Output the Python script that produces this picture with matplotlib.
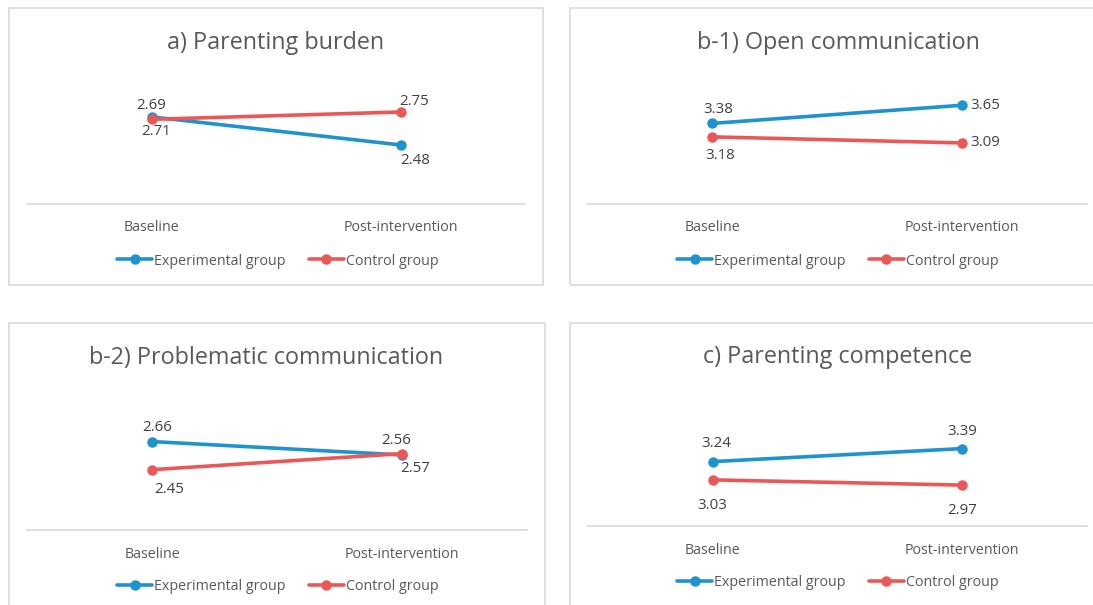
import matplotlib
matplotlib.use("Agg")
import matplotlib.pyplot as plt
from matplotlib.patches import Rectangle

plt.rcParams['font.family'] = ['Open Sans', 'DejaVu Sans']

W, H = 1093, 605

# chart data
categories = ["Baseline", "Post-intervention"]
series_names = ["Experimental group", "Control group"]

burden_exp = [2.71, 2.48]
burden_ctl = [2.69, 2.75]
open_exp = [3.38, 3.65]
open_ctl = [3.18, 3.09]
problem_exp = [2.66, 2.56]
problem_ctl = [2.45, 2.57]
compet_exp = [3.24, 3.39]
compet_ctl = [3.03, 2.97]

titles = ["a) Parenting burden", "b-1) Open communication",
          "b-2) Problematic communication", "c) Parenting competence"]

BLUE = "#1F93CE"
RED = "#EB5757"
GRAY_TXT = "#595959"
LABEL_TXT = "#404040"

fig = plt.figure(figsize=(W / 100, H / 100), dpi=100)


def fx(x):
    return x / W


def fy(y):
    return 1 - y / H


# panel layout in pixels: box, axis line (y, x0, x1), y-bottom value, px per unit,
# title center, legend center, label offsets (px) for [exp, ctl] per point
panels = [
    dict(exp=burden_exp, ctl=burden_ctl, title=titles[0],
         box=(9, 8, 543, 285), axis=(203.5, 27, 525), vmin=2.0, ppu=122,
         title_xy=(276, 43), legend_xy=(278, 261),
         off_exp=[(5, 15), (15, 16)], off_ctl=[(0, -14), (14, -11)]),
    dict(exp=open_exp, ctl=open_ctl, title=titles[1],
         box=(570, 8, 1110, 285), axis=(203.5, 587, 1087), vmin=2.19, ppu=67.3,
         title_xy=(838, 43), legend_xy=(838, 261),
         off_exp=[(6, -14), (23, 0)], off_ctl=[(8, 19), (23, 0)]),
    dict(exp=problem_exp, ctl=problem_ctl, title=titles[2],
         box=(9, 323, 545, 620), axis=(530, 27, 527), vmin=2.0, ppu=134,
         title_xy=(266, 358), legend_xy=(278, 587),
         off_exp=[(5, -14), (-6, -14)], off_ctl=[(17, 20), (13, 15)]),
    dict(exp=compet_exp, ctl=compet_ctl, title=titles[3],
         box=(570, 323, 1110, 620), axis=(526, 588, 1087), vmin=2.5, ppu=87,
         title_xy=(838, 357), legend_xy=(838, 583),
         off_exp=[(4, -18), (0, -17)], off_ctl=[(0, 26), (0, 25)]),
]

top_px_gap = 120  # axes height in pixels

for p in panels:
    bx0, by0, bx1, by1 = p["box"]
    fig.patches.append(Rectangle((fx(bx0), fy(by1)), fx(bx1 - bx0), (by1 - by0) / H,
                                 transform=fig.transFigure, fill=False,
                                 edgecolor="#D9D9D9", linewidth=1.2))
    ay, ax0, ax1 = p["axis"]
    ax = fig.add_axes([fx(ax0), fy(ay), fx(ax1 - ax0), top_px_gap / H])
    ax.set_xlim(-0.5, 1.5)
    ax.set_ylim(p["vmin"], p["vmin"] + top_px_gap / p["ppu"])
    xs = range(len(categories))
    ax.plot(xs, p["exp"], color=BLUE, lw=2.6, marker="o", ms=6.5,
            label=series_names[0], solid_capstyle="round", zorder=3)
    ax.plot(xs, p["ctl"], color=RED, lw=2.6, marker="o", ms=6.5,
            label=series_names[1], solid_capstyle="round", zorder=3)
    for vals, offs in ((p["exp"], p["off_exp"]), (p["ctl"], p["off_ctl"])):
        for i, v in enumerate(vals):
            ax.annotate(f"{v:.2f}", (i, v), xytext=(offs[i][0] * 0.72, -offs[i][1] * 0.72),
                        textcoords="offset points", ha="center", va="center",
                        fontsize=10.8, color=LABEL_TXT)
    for s in ("top", "left", "right"):
        ax.spines[s].set_visible(False)
    ax.spines["bottom"].set_color("#D9D9D9")
    ax.spines["bottom"].set_linewidth(1.2)
    ax.set_yticks([])
    ax.set_xticks(list(xs))
    ax.set_xticklabels(categories, fontsize=10.3, color=GRAY_TXT)
    ax.tick_params(axis="x", length=0, pad=12)
    ax.patch.set_visible(False)
    fig.text(fx(p["title_xy"][0]), fy(p["title_xy"][1]), p["title"],
             ha="center", va="center", fontsize=16.8, color=GRAY_TXT)
    lx, ly = p["legend_xy"]
    ax.legend(loc="center", bbox_to_anchor=(fx(lx), fy(ly)), bbox_transform=fig.transFigure,
              ncol=2, frameon=False, fontsize=10.3, labelcolor=GRAY_TXT,
              handlelength=2.45, handletextpad=0.15, columnspacing=1.6, markerscale=1.0)

fig.savefig("out.png", dpi=100, facecolor="white")
